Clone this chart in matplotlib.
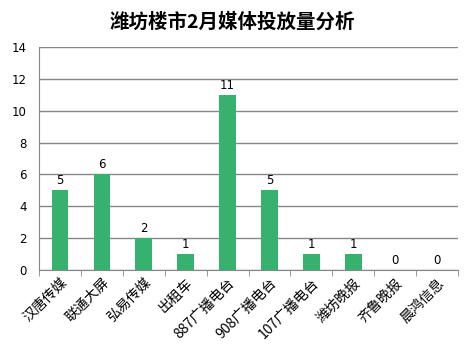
import matplotlib
matplotlib.use("Agg")
import matplotlib.pyplot as plt
import matplotlib.transforms as mtrans
import numpy as np

plt.rcParams['font.family'] = ['DejaVu Sans', 'Noto Sans CJK SC']

categories = ["汉唐传媒", "联通大屏", "弘易传媒", "出租车", "887广播电台",
              "908广播电台", "107广播电台", "潍坊晚报", "齐鲁晚报", "晨鸿信息"]
values = [5, 6, 2, 1, 11, 5, 1, 1, 0, 0]

fig = plt.figure(figsize=(4.65, 3.53), dpi=100)
ax = fig.add_axes([0.084, 0.235, 0.901, 0.632])

x = np.arange(len(categories))
ax.bar(x, values, width=0.4, color="#36B26E", zorder=3)
for xi, v in zip(x, values):
    ax.text(xi, v + 0.2, str(v), ha="center", va="bottom", fontsize=8.5, zorder=4)

ax.set_xlim(-0.5, len(categories) - 0.5)
ax.set_ylim(0, 14)
ax.set_yticks(range(0, 15, 2))
ax.yaxis.grid(True, color="#868686", linewidth=1, zorder=0)
ax.tick_params(axis="y", length=0, labelsize=8.5, pad=9)

ax.set_xticks(x)
ax.set_xticklabels(categories, rotation=45, ha="right", rotation_mode="anchor",
                   fontsize=10, family=['Noto Sans CJK SC', 'DejaVu Sans'])
shift = mtrans.ScaledTranslation(7 / 100, -2 / 100, fig.dpi_scale_trans)
for lbl in ax.get_xticklabels():
    lbl.set_transform(lbl.get_transform() + shift)
ax.set_xticks(np.arange(-0.5, len(categories), 1), minor=True)
ax.tick_params(axis="x", which="major", length=0, pad=4)
ax.tick_params(axis="x", which="minor", length=4, color="#868686", direction="out")

for s in ["top", "right"]:
    ax.spines[s].set_visible(False)
for s in ["left", "bottom"]:
    ax.spines[s].set_color("#868686")

fig.suptitle("潍坊楼市2月媒体投放量分析", x=0.5, y=0.965, fontsize=14, fontweight="bold",
             family=['Noto Sans CJK SC', 'DejaVu Sans'])

plt.savefig("out.png", dpi=100)
